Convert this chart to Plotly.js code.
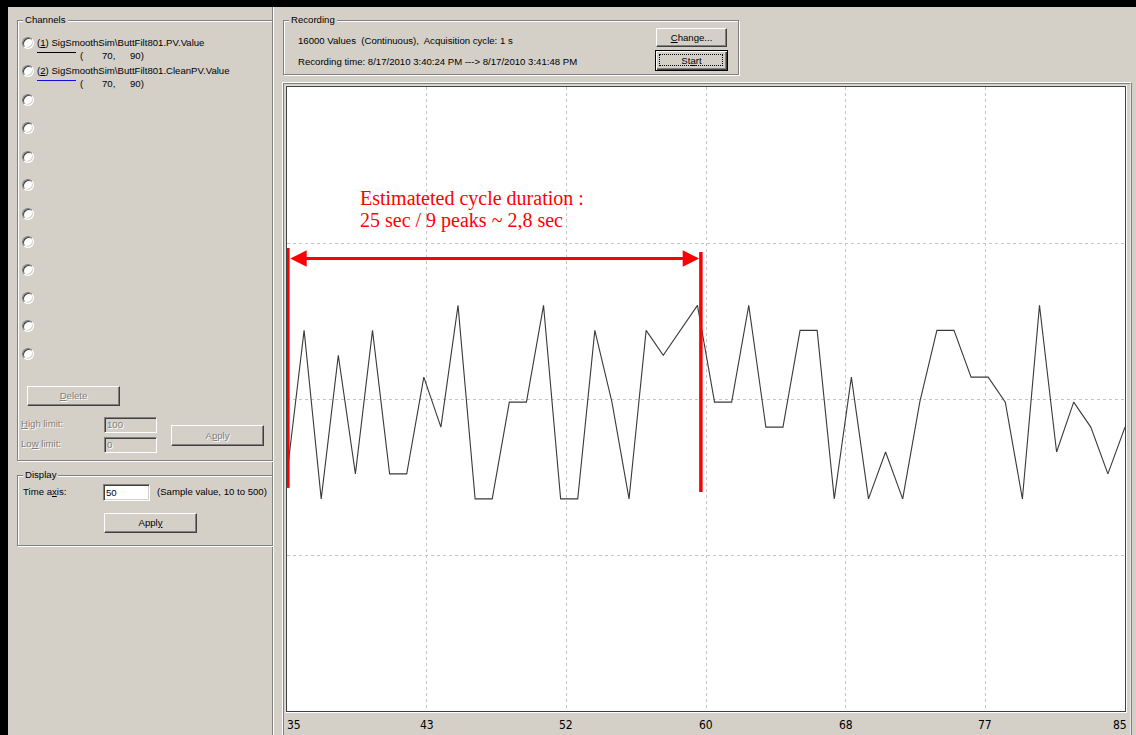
<!DOCTYPE html>
<html>
<head>
<meta charset="utf-8">
<title>Trend recorder</title>
<script src="https://cdn.plot.ly/plotly-3.0.1.min.js"></script>
<style>
  html, body { margin: 0; padding: 0; }
  body {
    width: 1136px; height: 735px; overflow: hidden; position: relative;
    background: #d4d0c8; color: #000;
    font-family: "Liberation Sans", Arial, sans-serif; font-size: 9.6px;
  }
  .blk { position: absolute; background: #000; }
  .line { position: absolute; }
  .group {
    position: absolute; box-sizing: border-box;
    border: 1px solid #808080;
    box-shadow: 1px 1px 0 #fff, inset 1px 1px 0 #fff;
  }
  .group .cap {
    position: absolute; top: -7px; left: 5px; padding: 0 2px;
    background: #d4d0c8; line-height: 12px; white-space: nowrap;
  }
  .radio {
    position: absolute; width: 12px; height: 12px; box-sizing: border-box;
    border-radius: 50%; background: #fff;
    border: 1px solid; border-color: #808080 #fff #fff #808080;
    box-shadow: inset 1px 1px 0 #404040, inset -1px -1px 0 #d4d0c8;
  }
  .btn {
    position: absolute; box-sizing: border-box; background: #d4d0c8;
    border: 1px solid; border-color: #fff #404040 #404040 #fff;
    box-shadow: inset -1px -1px 0 #808080;
    text-align: center; white-space: nowrap;
  }
  .btn.def {
    border: 1px solid #000;
    box-shadow: inset 1px 1px 0 #fff, inset -1px -1px 0 #404040, inset -2px -2px 0 #808080;
  }
  .btn .focus {
    position: absolute; left: 3px; top: 3px; right: 4px; bottom: 4px;
    border: 1px dotted #000;
  }
  .dis { color: #808080; text-shadow: 1px 1px 0 #fff; }
  .edit {
    position: absolute; box-sizing: border-box; padding-left: 2px;
    border: 1px solid; border-color: #808080 #fff #fff #808080;
    box-shadow: inset 1px 1px 0 #404040, inset -1px -1px 0 #d4d0c8;
    white-space: nowrap;
  }
  .lbl { position: absolute; white-space: nowrap; line-height: 12px; }
  #chart { position: absolute; left: 0; top: 0; width: 1136px; height: 735px; }
</style>
</head>
<body>

<!-- window edge -->
<div class="blk" style="left:0;top:0;width:1136px;height:7px;"></div>
<div class="blk" style="left:0;top:0;width:8px;height:735px;"></div>

<!-- pane divider -->
<div class="line" style="left:272px;top:7px;width:1px;height:728px;background:#808080;"></div>
<div class="line" style="left:273px;top:7px;width:1px;height:728px;background:#fff;"></div>

<!-- Channels -->
<div class="group" style="left:17px;top:20px;width:256px;height:441px;">
  <span class="cap">Channels</span>
</div>
<div class="radio" style="left:22px;top:37px;"></div>
<div class="lbl" style="left:37px;top:37px;">(<u>1</u>) SigSmoothSim\ButtFilt801.PV.Value</div>
<div class="line" style="left:37px;top:52px;width:39px;height:1px;background:#000;"></div>
<div class="lbl" style="left:80px;top:50px;">(</div>
<div class="lbl" style="left:102px;top:50px;">70,</div>
<div class="lbl" style="left:130px;top:50px;">90)</div>

<div class="radio" style="left:22px;top:65px;"></div>
<div class="lbl" style="left:37px;top:65px;">(<u>2</u>) SigSmoothSim\ButtFilt801.CleanPV.Value</div>
<div class="line" style="left:37px;top:80px;width:39px;height:1px;background:#1010e0;"></div>
<div class="lbl" style="left:80px;top:78px;">(</div>
<div class="lbl" style="left:102px;top:78px;">70,</div>
<div class="lbl" style="left:130px;top:78px;">90)</div>

<div class="radio" style="left:22px;top:94px;"></div>
<div class="radio" style="left:22px;top:122px;"></div>
<div class="radio" style="left:22px;top:151px;"></div>
<div class="radio" style="left:22px;top:179px;"></div>
<div class="radio" style="left:22px;top:208px;"></div>
<div class="radio" style="left:22px;top:236px;"></div>
<div class="radio" style="left:22px;top:264px;"></div>
<div class="radio" style="left:22px;top:292px;"></div>
<div class="radio" style="left:22px;top:320px;"></div>
<div class="radio" style="left:22px;top:348px;"></div>

<div class="btn dis" style="left:27px;top:386px;width:93px;height:20px;line-height:18px;"><u>D</u>elete</div>
<div class="lbl dis" style="left:21px;top:418px;"><u>H</u>igh limit:</div>
<div class="edit dis" style="left:104px;top:417px;width:53px;height:16px;line-height:14px;">100</div>
<div class="lbl dis" style="left:21px;top:438px;">Lo<u>w</u> limit:</div>
<div class="edit dis" style="left:104px;top:437px;width:53px;height:16px;line-height:14px;">0</div>
<div class="btn dis" style="left:171px;top:425px;width:93px;height:21px;line-height:19px;">A<u>p</u>ply</div>

<!-- Display -->
<div class="group" style="left:17px;top:475px;width:256px;height:71px;">
  <span class="cap">Display</span>
</div>
<div class="lbl" style="left:23px;top:486px;">Time a<u>x</u>is:</div>
<div class="edit" style="left:103px;top:484px;width:47px;height:17px;line-height:15px;background:#fff;">50</div>
<div class="lbl" style="left:157px;top:486px;">(Sample value, 10 to 500)</div>
<div class="btn" style="left:104px;top:513px;width:93px;height:20px;line-height:18px;">Appl<u>y</u></div>

<!-- Recording -->
<div class="group" style="left:283px;top:20px;width:456px;height:55px;">
  <span class="cap">Recording</span>
</div>
<div class="lbl" style="left:298px;top:35px;">16000 Values&nbsp; (Continuous),&nbsp; Acquisition cycle: 1 s</div>
<div class="lbl" style="left:298px;top:56px;">Recording time: 8/17/2010 3:40:24 PM ---&gt; 8/17/2010 3:41:48 PM</div>
<div class="btn" style="left:656px;top:28px;width:71px;height:19px;line-height:17px;"><u>C</u>hange...</div>
<div class="btn def" style="left:655px;top:50px;width:73px;height:21px;line-height:19px;"><span class="focus"></span>St<u>a</u>rt</div>

<!-- trend frame -->
<div class="line" style="left:282px;top:82px;width:850px;height:660px;box-sizing:border-box;border-left:1px solid #fff;border-top:1px solid #fff;border-right:1px solid #808080;"></div>
<div class="line" style="left:283px;top:83px;width:848px;height:660px;box-sizing:border-box;border-left:1px solid #808080;border-top:1px solid #808080;border-right:1px solid #e8e8e8;"></div>
<div class="line" style="left:285px;top:85px;width:842px;height:628px;box-sizing:border-box;border:1px solid;border-color:#e0ded8 #ffffff #ffffff #e0ded8;"></div>
<div class="line" style="left:286px;top:86px;width:840px;height:626px;box-sizing:border-box;border:1px solid #404040;background:#fff;"></div>

<div id="chart"></div>

<script>
// Samples of SigSmoothSim\ButtFilt801.PV.Value, one per acquisition cycle (1 s)
const sampleTime = [35, 36, 37, 38, 39, 40, 41, 42, 43, 44,
                    45, 46, 47, 48, 49, 50, 51, 52, 53, 54,
                    55, 56, 57, 58, 59, 60, 61, 62, 63, 64,
                    65, 66, 67, 68, 69, 70, 71, 72, 73, 74,
                    75, 76, 77, 78, 79, 80, 81, 82, 83, 84];
const pvValue = [77.6, 82.2, 76.8, 81.4, 77.6, 82.2, 77.6, 77.6, 80.7, 79.1,
                 83.0, 76.8, 76.8, 79.9, 79.9, 83.0, 76.8, 76.8, 82.2, 79.9,
                 76.8, 82.2, 81.4, 82.2, 83.0, 79.9, 79.9, 83.0, 79.1, 79.1,
                 82.2, 82.2, 76.8, 80.7, 76.8, 78.3, 76.8, 79.9, 82.2, 82.2,
                 80.7, 80.7, 79.9, 76.8, 83.0, 78.3, 79.9, 79.1, 77.6, 79.1];

// Channel scale (low, high) and time-axis labels as the recorder prints them
const channelScale = [70, 90];
const xTickLabels = ['35', '43', '52', '60', '68', '77', '85'];
const yGridValues = [75, 80, 85];

// Hand-drawn cycle estimate: bracket from first sample to the ninth peak
const cycleStart = 35.05;
const cycleEnd = 59.2;
const cycleNoteLines = ['Estimateted cycle duration :', '25 sec / 9 peaks ~ 2,8 sec'];

const xRange = [sampleTime[0], sampleTime[sampleTime.length - 1]];
const nDiv = xTickLabels.length - 1;
const xDivisions = xTickLabels.map((_, k) => xRange[0] + k * (xRange[1] - xRange[0]) / nDiv);

const trace = {
  type: 'scatter',
  mode: 'lines',
  x: sampleTime,
  y: pvValue,
  line: { color: '#3a3a3a', width: 1.1 },
  hoverinfo: 'skip'
};

const red = '#ff0000';

const tickNotes = xTickLabels.map((t, k) => ({
  xref: 'x', yref: 'paper',
  x: xDivisions[k], y: 0,
  text: t,
  showarrow: false,
  xanchor: k === 0 ? 'left' : (k === nDiv ? 'right' : 'center'),
  yanchor: 'middle',
  xshift: k === 0 ? -2 : (k === nDiv ? 4 : 0),
  yshift: -14,
  font: { family: '"Liberation Sans Narrow", "DejaVu Sans Condensed", "Liberation Sans", Arial, sans-serif', size: 12, color: '#000' }
}));

const textNotes = cycleNoteLines.map((t, k) => ({
  xref: 'x', yref: 'y',
  x: 39.25, y: k === 0 ? 86.44 : 85.71,
  text: t,
  showarrow: false,
  xanchor: 'left', yanchor: 'middle',
  borderpad: 0, borderwidth: 0,
  font: { family: '"Liberation Serif", "Times New Roman", serif', size: 20, color: red }
}));

const arrowNote = {
  xref: 'x', yref: 'y', axref: 'x', ayref: 'y',
  x: cycleEnd - 0.1, y: 84.5,
  ax: cycleStart + 0.05, ay: 84.5,
  text: '',
  showarrow: true,
  arrowside: 'end+start',
  arrowhead: 2, startarrowhead: 2,
  arrowsize: 1.1, startarrowsize: 1.1,
  arrowwidth: 3, arrowcolor: red,
  standoff: 0, startstandoff: 0
};

const layout = {
  width: 1136, height: 735,
  margin: { l: 287, r: 11, t: 87, b: 24, pad: 0 },
  paper_bgcolor: 'rgba(0,0,0,0)',
  plot_bgcolor: '#ffffff',
  showlegend: false,
  xaxis: {
    range: xRange,
    tickvals: xDivisions.slice(1, -1),
    showticklabels: false,
    ticks: '',
    showgrid: true,
    gridcolor: '#c4c4c4', gridwidth: 1, griddash: '3px,3px',
    zeroline: false, showline: false, fixedrange: true
  },
  yaxis: {
    range: channelScale,
    tickvals: yGridValues,
    showticklabels: false,
    ticks: '',
    showgrid: true,
    gridcolor: '#c4c4c4', gridwidth: 1, griddash: '3px,3px',
    zeroline: false, showline: false, fixedrange: true
  },
  shapes: [
    { type: 'line', xref: 'x', yref: 'y', x0: cycleStart, x1: cycleStart, y0: 77.15, y1: 84.84,
      line: { color: red, width: 3.5 } },
    { type: 'line', xref: 'x', yref: 'y', x0: cycleEnd, x1: cycleEnd, y0: 77.02, y1: 84.71,
      line: { color: red, width: 3.5 } }
  ],
  annotations: tickNotes.concat(textNotes, [arrowNote])
};

Plotly.newPlot('chart', [trace], layout, { staticPlot: true, displayModeBar: false });
</script>
</body>
</html>
